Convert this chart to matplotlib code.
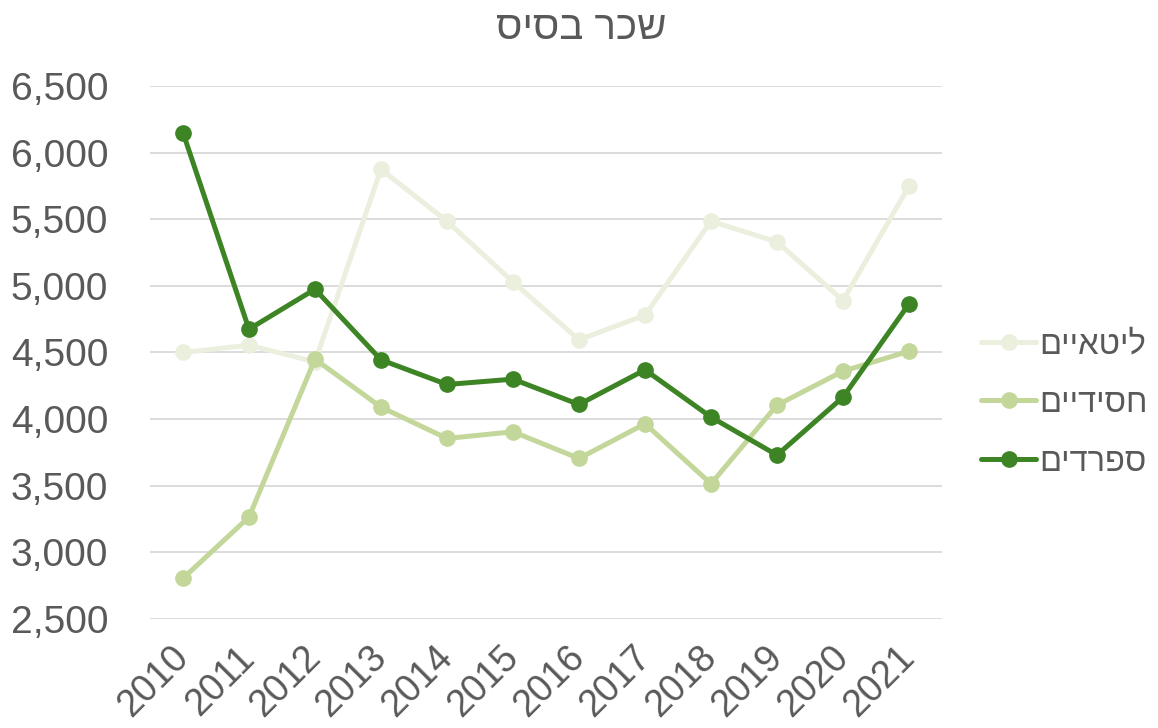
import matplotlib
matplotlib.use("Agg")
import matplotlib.pyplot as plt
from matplotlib.ticker import FuncFormatter

# נתונים
years = ["2010", "2011", "2012", "2013", "2014", "2015",
         "2016", "2017", "2018", "2019", "2020", "2021"]
litaim = [4500, 4555, 4430, 5875, 5485, 5030, 4595, 4780, 5485, 5330, 4890, 5750]
hasidim = [2805, 3265, 4450, 4090, 3855, 3905, 3705, 3965, 3515, 4105, 4360, 4510]
sfaradim = [6150, 4675, 4975, 4445, 4260, 4300, 4110, 4370, 4015, 3730, 4165, 4865]

series_names = ["ליטאיים", "חסידיים", "ספרדים"]
TITLE = "שכר בסיס"

COLORS = ["#EBF0DE", "#C4D79B", "#3D8424"]
TEXT_COLOR = "#595959"
GRID_COLOR = "#D9D9D9"
FONT = ["Liberation Sans", "DejaVu Sans"]


def rtl(s):
    # matplotlib אינו מטפל בכיווניות - הופכים את סדר האותיות לתצוגה
    return s[::-1]


plt.rcParams["font.family"] = FONT

fig = plt.figure(figsize=(11.58, 7.28), dpi=100)
ax = fig.add_axes([0.1295, 0.1497, 0.684, 0.7322])

x = list(range(len(years)))
for vals, name, col in zip([litaim, hasidim, sfaradim], series_names, COLORS):
    ax.plot(x, vals, color=col, lw=3.6, marker="o", markersize=11,
            label=rtl(name), solid_capstyle="round", solid_joinstyle="round")

ax.set_xlim(-0.5, len(years) - 0.5)
ax.set_ylim(2500, 6500)
ax.set_yticks(range(2500, 6501, 500))
ax.yaxis.set_major_formatter(FuncFormatter(lambda v, p: f"{int(v):,}"))
ax.set_xticks(x)
ax.set_xticklabels(years, rotation=45, ha="right", va="center", rotation_mode="anchor")

ax.grid(axis="y", color=GRID_COLOR, lw=1.3)
ax.set_axisbelow(True)
for sp in ax.spines.values():
    sp.set_visible(False)
ax.tick_params(axis="both", length=0, labelcolor=TEXT_COLOR)
ax.tick_params(axis="y", labelsize=28, pad=30)
ax.tick_params(axis="x", labelsize=27, pad=24)

fig.text(0.502, 0.962, rtl(TITLE), ha="center", va="center",
         fontsize=29, color=TEXT_COLOR)

leg = fig.legend(loc="center left", bbox_to_anchor=(0.847, 0.446), frameon=False,
                 fontsize=23.5, handlelength=1.7, handletextpad=0.1, labelspacing=0.85,
                 borderpad=0, borderaxespad=0, labelcolor=TEXT_COLOR)

fig.savefig("out.png", dpi=100)
